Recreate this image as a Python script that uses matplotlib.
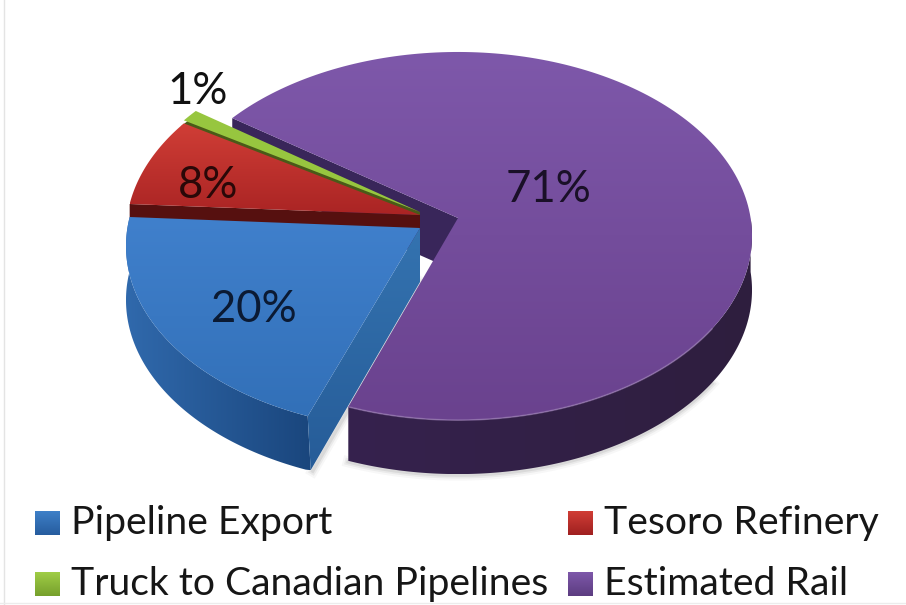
import numpy as np
import matplotlib
matplotlib.use("Agg")
import matplotlib.pyplot as plt
from matplotlib.patches import Polygon

categories = ["Pipeline Export", "Tesoro Refinery", "Truck to Canadian Pipelines", "Estimated Rail"]
shares = [20.3, 7.9, 1.1, 70.7]
labels = ["20%", "8%", "1%", "71%"]

plt.rcParams['font.family'] = ['Lato', 'DejaVu Sans']

R, KR, P = 292.6, 182.3, 0.098
DEPTH = 54
START = 110.4
RAIL_TILT = -0.5


def rim(theta, apex):
    t = np.radians(theta)
    f = 1 / (1 - P * np.sin(t))
    return np.column_stack([apex[0] + R * np.cos(t) * f, apex[1] + KR * np.sin(t) * f])


def lerp(c1, c2, u):
    c1, c2 = np.array(c1, float), np.array(c2, float)
    return (c1 + (c2 - c1) * u[..., None]) / 255


def fill(ax, pts, c1, c2, direction="v", z=1):
    pts = np.asarray(pts)
    (x0, y0), (x1, y1) = pts.min(0), pts.max(0)
    u = np.linspace(0, 1, 128)
    u = u[:, None] if direction == "v" else u[None, :]
    im = ax.imshow(lerp(c1, c2, u), extent=(x0, x1, y1, y0), aspect="auto",
                   zorder=z, interpolation="bilinear")
    clip = Polygon(pts, closed=True, transform=ax.transData, fc="none", ec="none")
    ax.add_patch(clip)
    im.set_clip_path(clip)
    return im


fig = plt.figure(figsize=(9.06, 6.05), dpi=100)
ax = fig.add_axes([0, 0, 1, 1])

# angular spans from the values, clockwise on screen
edges = START + np.cumsum([0] + shares) * 3.6
span = {c: (edges[i], edges[i + 1]) for i, c in enumerate(categories)}
span[categories[3]] = (edges[3] + RAIL_TILT, edges[4] + RAIL_TILT)


def arc(c, apex, lo=None, hi=None):
    a = span[c][0] if lo is None else lo
    b = span[c][1] if hi is None else hi
    return rim(np.linspace(a, b, 200), apex)


down = np.array([0, DEPTH])

# ---- Estimated Rail ----
a_rail = (458, 218)
c = categories[3]
r = arc(c, a_rail)
# soft shadow below the front wall
shadow = arc(c, a_rail, lo=395) + down
for w, al in ((8, .03), (5, .05), (2.5, .07)):
    ax.plot(shadow[:, 0], shadow[:, 1] + 1, color="black", lw=w, alpha=al, zorder=1.5)
# exposed inner wall at the back-left cut
wall = np.vstack([r[0], a_rail, np.array(a_rail) + down, r[0] + down])
ax.add_patch(Polygon(wall, fc="#39265a", ec="none", zorder=2))
# outer wall
o = arc(c, a_rail, lo=360)
fill(ax, np.vstack([o, (o + down)[::-1]]), (54, 34, 78), (46, 30, 62), "h", z=2)
top = np.vstack([np.array(a_rail)[None], r])
fill(ax, top, (126, 88, 170), (106, 66, 142), "v", z=3)
front = arc(c, a_rail, lo=395)
ax.plot(front[:, 0], front[:, 1], color="#9a7cb4", lw=1.2, alpha=.6, zorder=4, solid_capstyle="round")

# ---- Pipeline Export ----
a_pipe = (420, 228)
c = categories[0]
r = arc(c, a_pipe)
skew = np.array([3, 0])
corner = r[0] + down + skew
foot = np.vstack([np.array(a_pipe) + down, corner])
for w, al in ((8, .03), (5, .05), (2.5, .07)):
    ax.plot(foot[:, 0] + 2, foot[:, 1] + 1, color="black", lw=w, alpha=al, zorder=1.5)
wall = np.vstack([a_pipe, np.array(a_pipe) + down, corner, r[0]])
fill(ax, wall, (52, 115, 176), (38, 92, 152), "v", z=6)
outer = r + down
outer[0] = corner
fill(ax, np.vstack([r, outer[::-1]]), (48, 105, 172), (26, 70, 125), "h", z=5)
fill(ax, np.vstack([np.array(a_pipe)[None], r]), (64, 128, 204), (50, 112, 184), "v", z=7)

# ---- Truck to Canadian Pipelines ----
a_truck = (420, 212)
c = categories[2]
r = arc(c, a_truck)
ax.add_patch(Polygon(np.vstack([a_truck, r[-1] + [-3, 6], r[0] + [-3, 6], (420, 218)]),
                     fc="#4a5a18", ec="none", zorder=3.4))
ax.add_patch(Polygon(np.vstack([a_truck, r]), fc="#97c63f", ec="none", zorder=3.5))

# ---- Tesoro Refinery ----
a_ref = (420, 215)
c = categories[1]
r = arc(c, a_ref)
ax.add_patch(Polygon(np.vstack([a_ref, (420, 230), r[0] + [0, 16], r[0]]),
                     fc="#56100f", ec="none", zorder=4))
fill(ax, np.vstack([np.array(a_ref)[None], r]), (208, 62, 54), (170, 36, 36), "v", z=4.5)

# ---- data labels ----
label_pos = {"20%": (254, 310), "8%": (208, 185), "1%": (198, 91), "71%": (549, 189)}
for lab, col in zip(labels, ["#0b1a33", "#2a0808", "#111111", "#1a1028"]):
    ax.text(*label_pos[lab], lab, fontsize=31.5, color=col, ha="center", va="center", zorder=10)

# ---- legend ----
swatches = [((62, 128, 200), (38, 92, 158)), ((208, 62, 54), (160, 32, 32)),
            ((160, 205, 70), (118, 160, 44)), ((126, 88, 170), (92, 60, 128))]
slots = [(35, 523), (568, 523), (35, 584), (568, 584)]
for name, (cx0, cy), (c1, c2) in zip(categories, slots, swatches):
    sq = [(cx0, cy - 12), (cx0 + 25, cy - 12), (cx0 + 25, cy + 12), (cx0, cy + 12)]
    fill(ax, sq, c1, c2, "v", z=10)
    ax.text(cx0 + 36, cy, name, fontsize=28.2, color="#161616", ha="left", va="center", zorder=10)

# faint frame of the source image
ax.plot([3.5, 3.5], [0, 605], color="#e4e4e4", lw=1, zorder=0)
ax.plot([0, 906], [602.5, 602.5], color="#ececec", lw=1, zorder=0)

ax.set_xlim(0, 906)
ax.set_ylim(605, 0)
ax.axis("off")
fig.savefig("out.png", dpi=100, facecolor="white")
